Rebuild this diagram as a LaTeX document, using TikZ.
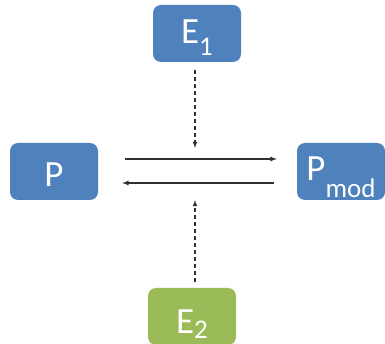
\documentclass[tikz,border=0pt]{standalone}
\usepackage{fontspec}
\setmainfont{Carlito}
\usepackage{xcolor}
\usetikzlibrary{arrows,positioning}

\definecolor{boxblue}{HTML}{4F81BD}
\definecolor{boxgreen}{HTML}{9BBB59}
\definecolor{arrowgray}{HTML}{303030}

% lowered index, as the boxes print it
\newcommand{\idx}[2][10pt]{\raisebox{-#1}{\fontsize{27}{27}\selectfont #2}}

\begin{document}
\begin{tikzpicture}[x=1pt, y=1pt, >=latex,
    statebox/.style={draw=none, fill=boxblue, text=white, rectangle, rounded corners=8pt,
        minimum width=88pt, minimum height=57pt, inner sep=0pt,
        text height=20pt, text depth=0pt, font=\fontsize{37}{40}\selectfont},
    flow/.style={->, line width=1.2pt, draw=arrowgray},
    effect/.style={->, line width=1.1pt, draw=arrowgray, dash pattern=on 4pt off 3pt}]

        \useasboundingbox (0,0) rectangle (385,-344);

        % Boxes
        \node (e1) [statebox] at (197,-33.5) {E\idx[12pt]{1}};
        \node (p) [statebox, text height=31pt] at (54,-171.5) {P};
        \node (pmod) [statebox, text height=19pt] at (341,-171.5) {P\idx[17pt]{mod}};
        \node (e2) [statebox, fill=boxgreen, text height=33pt] at (192,-316.5) {E\idx[5pt]{2}};
        \coordinate (hub) at (195,-171.5);

        % Arrows
        \draw[flow, shorten <=27pt, shorten >=20pt] ([yshift=12.5pt]p.east) -- ([yshift=12.5pt]pmod.west);
        \draw[flow, shorten <=23pt, shorten >=24pt] ([yshift=-11.5pt]pmod.west) -- ([yshift=-11.5pt]p.east);
        \draw[effect, shorten <=8pt, shorten >=23.5pt] (e1.south -| hub) -- (hub);
        \draw[effect, shorten <=6pt, shorten >=28.5pt] (e2.north -| hub) -- (hub);

\end{tikzpicture}
\end{document}
